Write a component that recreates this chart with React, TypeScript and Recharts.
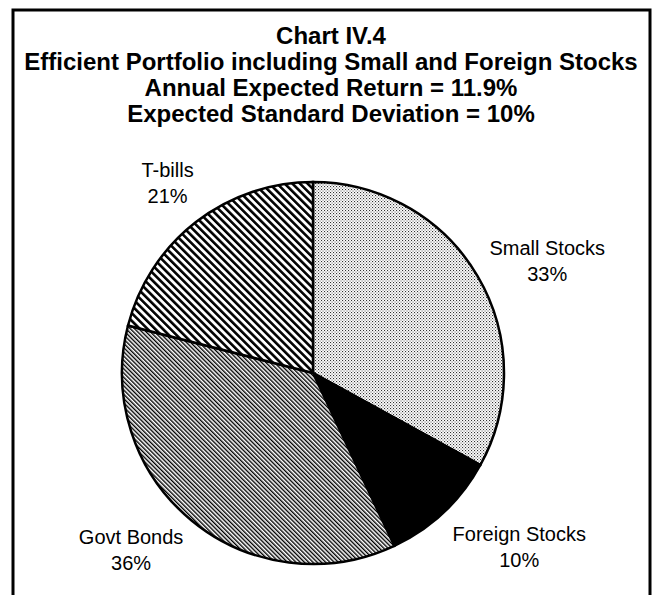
import React from 'react';
import { PieChart, Pie, Cell } from 'recharts';

const categories = ['Small Stocks', 'Foreign Stocks', 'Govt Bonds', 'T-bills'];
const weights = [33, 10, 36, 21];
const titleLines = [
  'Chart IV.4',
  'Efficient Portfolio including Small and Foreign Stocks',
  'Annual Expected Return = 11.9%',
  'Expected Standard Deviation = 10%',
];

const data = categories.map((name, i) => ({ name, value: weights[i] }));
const fills = ['url(#pDots)', '#000000', 'url(#pFine)', 'url(#pWide)'];

// label nudges relative to the anchor point just outside each slice
const labelNudge: Record<string, [number, number]> = {
  'Small Stocks': [44, -13],
  'Foreign Stocks': [55, 0],
  'Govt Bonds': [-41, -6],
  'T-bills': [-10, -28],
};

const FONT = '"Liberation Sans", Arial, Helvetica, sans-serif';

const renderLabel = (props: any) => {
  const { cx, cy, midAngle, outerRadius, value } = props;
  const name = props.name ?? props.payload?.name;
  const RAD = Math.PI / 180;
  const r = outerRadius + 30;
  const ax = cx + r * Math.cos(-midAngle * RAD);
  const ay = cy + r * Math.sin(-midAngle * RAD);
  const [dx, dy] = labelNudge[name] || [0, 0];
  const x = ax + dx;
  const y = ay + dy;
  return (
    <text x={x} y={y + 7} textAnchor="middle" fontFamily={FONT} fontSize={20} fill="#000">
      <tspan x={x}>{name}</tspan>
      <tspan x={x} dy={26}>{value}%</tspan>
    </text>
  );
};

export default function App() {
  const W = 657;
  const H = 595;
  return (
    <div style={{ position: 'absolute', left: 0, top: 0, width: W, height: H, background: '#fff' }}>
      <svg width={0} height={0} style={{ position: 'absolute' }}>
        <defs>
          <pattern id="pDots" patternUnits="userSpaceOnUse" width={3} height={3}>
            <rect x={0} y={0} width={3} height={3} fill="#fff" />
            <rect x={0} y={0} width={1.1} height={1.1} fill="#333" />
            <rect x={1.5} y={1.5} width={1.1} height={1.1} fill="#666" />
          </pattern>
          <pattern id="pFine" patternUnits="userSpaceOnUse" width={3} height={3} patternTransform="rotate(-45)">
            <rect x={0} y={0} width={3} height={3} fill="#fff" />
            <rect x={0} y={0} width={1.4} height={3} fill="#000" />
          </pattern>
          <pattern id="pWide" patternUnits="userSpaceOnUse" width={5.4} height={5.4} patternTransform="rotate(-45)">
            <rect x={0} y={0} width={5.4} height={5.4} fill="#fff" />
            <rect x={0} y={0} width={2.6} height={5.4} fill="#000" />
          </pattern>
        </defs>
      </svg>
      <div style={{ position: 'absolute', left: 0, top: 0 }}>
        <PieChart width={W} height={H} margin={{ top: 0, right: 0, bottom: 0, left: 0 }}>
          <Pie
            data={data}
            dataKey="value"
            nameKey="name"
            cx={313}
            cy={373}
            outerRadius={191}
            startAngle={90}
            endAngle={-270}
            stroke="#000"
            strokeWidth={2.5}
            label={renderLabel}
            labelLine={false}
            isAnimationActive={false}
          >
            {data.map((d, i) => (
              <Cell key={d.name} fill={fills[i]} />
            ))}
          </Pie>
        </PieChart>
      </div>
      <svg width={W} height={H} style={{ position: 'absolute', left: 0, top: 0, pointerEvents: 'none' }}>
        <rect x={13} y={10} width={637} height={620} fill="none" stroke="#000" strokeWidth={3} />
        {titleLines.map((t, i) => (
          <text
            key={i}
            x={331}
            y={44 + i * 26}
            textAnchor="middle"
            fontFamily={FONT}
            fontWeight="bold"
            fontSize={24}
            fill="#000"
          >
            {t}
          </text>
        ))}
      </svg>
    </div>
  );
}
